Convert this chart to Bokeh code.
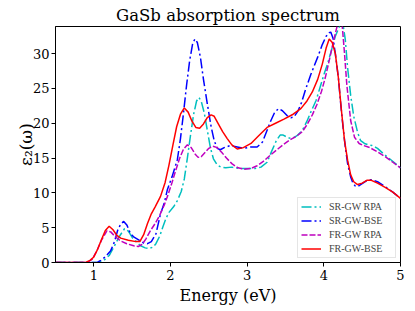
from bokeh.plotting import figure
from bokeh.models import Range1d, FixedTicker
from bokeh.embed import file_html
from bokeh.resources import INLINE

# SR-GW RPA (cyan)
e_sr_rpa = [0.5, 1.05, 1.13, 1.2, 1.26, 1.33, 1.40, 1.45, 1.50, 1.56, 1.61, 1.67, 1.72, 1.77, 1.81,
            1.86, 1.90, 1.94, 1.98, 2.04, 2.09, 2.14, 2.18, 2.22, 2.26, 2.30, 2.34, 2.37, 2.40, 2.44,
            2.48, 2.52, 2.56, 2.61, 2.66, 2.72, 2.8, 2.9, 3.0, 3.1, 3.18, 3.26, 3.32, 3.38, 3.43,
            3.47, 3.52, 3.57, 3.62, 3.66, 3.72, 3.78, 3.83, 3.9, 3.96, 4.01, 4.05, 4.1, 4.15, 4.2,
            4.24, 4.28, 4.31, 4.35, 4.39, 4.44, 4.48, 4.53, 4.58, 4.63, 4.7, 4.78, 4.87, 5.0]
v_sr_rpa = [0, 0, 0.3, 1.0, 2.2, 3.7, 4.85, 4.5, 3.6, 2.9, 2.4, 2.1, 2.0, 2.2, 2.7,
            3.8, 5.1, 6.3, 7.2, 8.0, 8.9, 10.2, 12.0, 15.0, 18.2, 21.2, 23.2, 23.7, 23.2, 21.5,
            19.0, 16.5, 14.9, 14.0, 13.7, 13.6, 13.7, 13.5, 13.5, 13.5, 13.7, 14.4, 16.0, 17.5, 18.3,
            18.3, 18.0, 17.8, 18.0, 18.3, 19.0, 20.3, 21.6, 23.3, 25.5, 27.3, 28.6, 30.5, 32.5, 33.8,
            35.0, 32.0, 28.0, 24.0, 21.0, 18.7, 17.5, 17.1, 16.9, 16.8, 16.4, 15.6, 14.8, 13.6]

# SR-GW-BSE (blue)
e_sr_bse = [0.5, 1.0, 1.05, 1.09, 1.15, 1.22, 1.27, 1.31, 1.35, 1.39, 1.43, 1.48, 1.53, 1.59, 1.65,
            1.70, 1.75, 1.81, 1.87, 1.92, 1.96, 2.02, 2.09, 2.13, 2.17, 2.21, 2.25, 2.29, 2.32, 2.35,
            2.39, 2.43, 2.48, 2.53, 2.57, 2.61, 2.65, 2.7, 2.78, 2.87, 2.96, 3.05, 3.13, 3.2, 3.26,
            3.31, 3.36, 3.41, 3.46, 3.52, 3.57, 3.61, 3.66, 3.71, 3.76, 3.83, 3.92, 3.98, 4.03, 4.07,
            4.09, 4.12, 4.15, 4.19, 4.22, 4.25, 4.28, 4.31, 4.35, 4.38, 4.41, 4.44, 4.48, 4.55, 4.62,
            4.7, 4.8, 4.9, 5.0]
v_sr_bse = [0, 0, 0.05, 0.3, 0.8, 1.7, 3.0, 4.6, 5.5, 5.9, 5.4, 4.1, 3.6, 3.2, 2.8,
            2.7, 3.0, 4.1, 7.0, 8.6, 10.5, 12.3, 14.8, 17.8, 21.5, 25.5, 29.0, 31.5, 32.1, 31.6,
            29.5, 26.3, 22.8, 19.5, 17.5, 16.4, 16.2, 16.5, 16.8, 16.6, 16.4, 16.6, 16.6, 17.3, 19.0,
            20.4, 21.6, 22.1, 21.8, 21.1, 20.8, 20.9, 21.7, 23.0, 24.8, 27.0, 29.5, 31.3, 32.5, 33.0,
            33.1, 32.2, 30.0, 26.5, 22.8, 19.5, 16.6, 14.2, 12.3, 11.4, 11.0, 10.9, 11.2, 11.7, 11.9,
            11.6, 10.9, 10.1, 9.2]

# FR-GW RPA (magenta)
e_fr_rpa = [0.5, 0.88, 0.93, 0.98, 1.04, 1.1, 1.17, 1.22, 1.28, 1.35, 1.43, 1.52, 1.58, 1.63, 1.68,
            1.74, 1.8, 1.86, 1.92, 1.97, 2.02, 2.07, 2.12, 2.17, 2.22, 2.27, 2.32, 2.36, 2.4, 2.45,
            2.5, 2.55, 2.61, 2.67, 2.73, 2.8, 2.88, 2.96, 3.05, 3.13, 3.22, 3.3, 3.4, 3.48, 3.57,
            3.65, 3.72, 3.78, 3.85, 3.91, 3.97, 4.02, 4.07, 4.12, 4.17, 4.21, 4.24, 4.27, 4.3, 4.35,
            4.4, 4.46, 4.52, 4.6, 4.7, 4.8, 4.9, 5.0]
v_fr_rpa = [0, 0, 0.1, 0.5, 1.7, 3.2, 4.55, 4.4, 3.7, 3.1, 2.7, 2.4, 2.3, 2.6, 3.4,
            4.6, 5.6, 6.8, 8.3, 9.8, 11.5, 13.3, 15.0, 16.3, 16.9, 16.5, 15.6, 15.1, 15.2, 15.8,
            16.4, 16.7, 16.5, 15.8, 15.0, 14.2, 13.6, 13.4, 13.5, 13.9, 14.6, 15.4, 16.3, 17.0, 17.7,
            18.2, 18.8, 19.8, 21.2, 22.7, 24.6, 26.6, 29.0, 31.5, 33.8, 34.8, 34.0, 30.0, 25.5, 20.4,
            18.0, 17.1, 16.8, 16.5, 15.9, 15.2, 14.4, 13.6]

# FR-GW-BSE (red)
e_fr_bse = [0.5, 0.8, 0.9, 0.95, 1.0, 1.05, 1.1, 1.15, 1.2, 1.25, 1.3, 1.35, 1.45, 1.55, 1.6,
            1.65, 1.7, 1.75, 1.8, 1.87, 1.93, 1.98, 2.03, 2.08, 2.13, 2.18, 2.23, 2.28, 2.33, 2.38,
            2.43, 2.48, 2.53, 2.57, 2.62, 2.68, 2.74, 2.8, 2.87, 2.95, 3.05, 3.15, 3.26, 3.37, 3.48,
            3.6, 3.7, 3.78, 3.85, 3.92, 3.98, 4.03, 4.07, 4.11, 4.15, 4.19, 4.23, 4.27, 4.31, 4.35,
            4.39, 4.44, 4.5, 4.56, 4.62, 4.7, 4.8, 4.9, 5.0]
v_fr_bse = [0, 0, 0.05, 0.3, 0.8, 1.9, 3.3, 4.6, 5.2, 4.7, 3.9, 3.5, 3.2, 3.0, 3.0,
            4.0, 5.6, 7.0, 8.0, 9.5, 11.5, 14.0, 16.8, 19.5, 21.3, 22.2, 21.6, 20.3, 19.4, 19.3,
            19.9, 20.8, 21.2, 21.0, 20.0, 18.8, 17.8, 16.9, 16.3, 16.5, 17.1, 18.2, 19.4, 20.0, 20.6,
            21.3, 22.1, 23.2, 24.5, 26.3, 28.5, 30.8, 32.1, 31.6, 30.0, 26.5, 21.8, 17.5, 14.7, 12.6,
            11.6, 11.2, 11.4, 11.8, 11.8, 11.4, 10.8, 10.1, 9.2]

FONT = "DejaVu Serif"

p = figure(width=415, height=311, output_backend="svg", toolbar_location=None,
           x_range=Range1d(0.5, 5), y_range=Range1d(0, 33.9),
           min_border_left=55, min_border_right=15, min_border_top=26, min_border_bottom=49,
           title="GaSb absorption spectrum")

p.line(e_sr_rpa, v_sr_rpa, color="#00bfbf", line_width=1.5, line_dash="10 3 2 3", legend_label="SR-GW RPA")
p.line(e_sr_bse, v_sr_bse, color="#0000ff", line_width=1.5, line_dash="10 3 2 3", legend_label="SR-GW-BSE")
p.line(e_fr_rpa, v_fr_rpa, color="#bf00bf", line_width=1.5, line_dash="6 2", legend_label="FR-GW RPA")
p.line(e_fr_bse, v_fr_bse, color="#ff0000", line_width=1.5, legend_label="FR-GW-BSE")

p.title.align = "center"
p.title.text_font = FONT
p.title.text_font_size = "16.5px"
p.title.text_font_style = "normal"
p.title.text_color = "black"
p.title.standoff = 4

p.xgrid.visible = False
p.ygrid.visible = False
p.outline_line_color = "black"
p.outline_line_width = 1
p.outline_line_alpha = 1
p.background_fill_color = "white"
p.border_fill_color = "white"

p.xaxis.ticker = FixedTicker(ticks=[1, 2, 3, 4, 5])
p.yaxis.ticker = FixedTicker(ticks=[0, 5, 10, 15, 20, 25, 30])
p.xaxis.axis_label = "Energy (eV)"
p.yaxis.axis_label = "ε₂(ω)"
for ax in (p.xaxis, p.yaxis):
    ax.axis_label_text_font = FONT
    ax.axis_label_text_font_style = "normal"
    ax.axis_label_text_color = "black"
    ax.major_label_text_font = FONT
    ax.major_label_text_font_size = "13px"
    ax.major_label_text_color = "black"
    ax.major_tick_out = 4
    ax.major_tick_in = 0
    ax.minor_tick_out = 0
    ax.minor_tick_in = 0
    ax.axis_line_color = "black"
    ax.major_tick_line_color = "black"
    ax.major_label_standoff = 3
p.xaxis.axis_label_text_font_size = "16px"
p.xaxis.axis_label_standoff = 3
p.yaxis.axis_label_text_font_size = "17px"
p.yaxis.axis_label_standoff = -6
p.yaxis.major_label_standoff = 2

lg = p.legend[0]
lg.location = "bottom_right"
lg.margin = 4
lg.padding = 3
lg.spacing = 3
lg.label_text_font = "Liberation Serif"
lg.label_text_font_size = "10px"
lg.label_height = 11
lg.label_width = 63
lg.glyph_height = 11
lg.glyph_width = 20
lg.label_standoff = 8
lg.border_line_color = "#cccccc"
lg.border_line_width = 1
lg.background_fill_alpha = 0.8

open("out.html", "w").write(file_html(p, INLINE))
